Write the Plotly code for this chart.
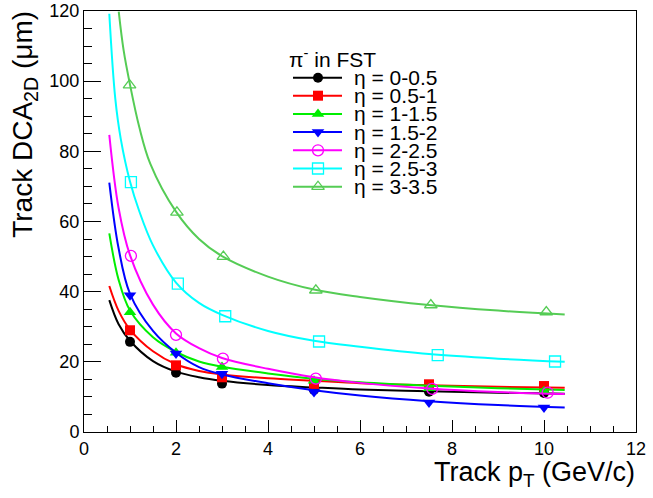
import plotly.graph_objects as go

# ---------------- data ----------------
eta_bins = ["0-0.5", "0.5-1", "1-1.5", "1.5-2", "2-2.5", "2.5-3", "3-3.5"]

# measured points
x_eta00 = [1, 2, 3, 5, 7.5, 10]
y_eta00 = [25.7, 16.9, 13.8, 12.0, 11.5, 11.1]
x_eta05 = [1, 2, 3, 5, 7.5, 10]
y_eta05 = [29.0, 19.0, 15.6, 13.7, 13.6, 13.1]
x_eta10 = [1, 2, 3, 5, 7.5, 10]
y_eta10 = [34.1, 22.6, 18.5, 14.6, 12.5, 11.6]
x_eta15 = [1, 2, 3, 5, 7.5, 10]
y_eta15 = [39.0, 22.4, 16.6, 11.4, 8.4, 7.0]
x_eta20 = [1.02, 2.0, 3.02, 5.04, 7.57, 10.08]
y_eta20 = [50.2, 27.7, 20.9, 15.2, 12.3, 11.2]
x_eta25 = [1.02, 2.04, 3.07, 5.11, 7.69, 10.24]
y_eta25 = [71.2, 42.3, 33.0, 25.8, 21.9, 20.1]
x_eta30 = [0.99, 2.02, 3.03, 5.04, 7.54, 10.05]
y_eta30 = [98.9, 62.6, 50.0, 40.4, 36.2, 34.2]

# fitted curves
fx_std = [0.55, 0.75, 1, 1.5, 2, 2.5, 3, 4, 5, 6, 7.5, 9, 10.45]
fy_eta00 = [37.6, 30.8, 26.0, 20.2, 17.2, 15.6, 14.6, 13.4, 12.7, 12.1, 11.6, 11.2, 10.9]
fy_eta05 = [41.6, 34.6, 29.2, 23.0, 19.3, 17.4, 16.4, 15.3, 14.6, 13.9, 13.3, 12.9, 12.6]
fy_eta10 = [56.6, 43.5, 34.6, 27.0, 22.8, 20.1, 18.6, 16.7, 15.2, 14.2, 13.2, 12.5, 12.0]
fy_eta15 = [71.1, 52.5, 39.4, 28.8, 22.6, 18.5, 16.4, 13.9, 11.9, 10.4, 8.8, 7.7, 7.0]
fy_eta20 = [84.7, 64.0, 50.4, 36.3, 28.1, 23.9, 21.1, 18.0, 15.6, 14.0, 12.4, 11.4, 10.8]
fx_eta25 = [0.55, 0.68, 0.8, 1, 1.2, 1.5, 2, 2.5, 3, 4, 5, 6, 7.5, 9, 10.45]
fy_eta25 = [119.2, 95.0, 83.5, 71.4, 63.0, 53.2, 42.6, 36.8, 33.4, 28.8, 26.0, 24.3, 22.2, 20.9, 20.0]
fx_eta30 = [0.755, 0.86, 1, 1.2, 1.44, 2, 2.5, 3, 4, 5, 6, 7.5, 9, 10.45]
fy_eta30 = [119.8, 108.9, 99.0, 87.0, 76.5, 62.8, 55.0, 50.1, 44.3, 40.6, 38.5, 36.2, 34.6, 33.5]

x_ticks = [0, 2, 4, 6, 8, 10, 12]
y_ticks = [0, 20, 40, 60, 80, 100, 120]

# ---------------- styles ----------------
colors = ["#000000", "#ff0000", "#00ee00", "#0000ff", "#ff00ff", "#00ffff", "#55cc55"]
symbols = ["circle", "square", "triangle-up", "triangle-down",
           "circle-open", "square-open", "triangle-up-open"]
msizes = [10, 10, 11, 11, 11, 11, 11]

series = [
    (x_eta00, y_eta00, fx_std, fy_eta00),
    (x_eta05, y_eta05, fx_std, fy_eta05),
    (x_eta10, y_eta10, fx_std, fy_eta10),
    (x_eta15, y_eta15, fx_std, fy_eta15),
    (x_eta20, y_eta20, fx_std, fy_eta20),
    (x_eta25, y_eta25, fx_eta25, fy_eta25),
    (x_eta30, y_eta30, fx_eta30, fy_eta30),
]

FONT = "Liberation Sans, Arial, Helvetica, sans-serif"

fig = go.Figure()
for i, (mx, my, cx, cy) in enumerate(series):
    is_open = symbols[i].endswith("open")
    fig.add_trace(go.Scatter(
        x=mx, y=my, mode="markers", showlegend=False,
        marker=dict(symbol=symbols[i], size=msizes[i], color=colors[i],
                    line=dict(width=1.3 if is_open else 0, color=colors[i])),
    ))
    fig.add_trace(go.Scatter(
        x=cx, y=cy, mode="lines", showlegend=False,
        line=dict(color=colors[i], width=2, shape="spline", smoothing=1.0),
    ))

# ---------------- hand-made legend (pixel-like overlay axes) ----------------
leg_rows = [77.7, 95.7, 113.9, 132.1, 150.3, 168.5, 186.7]
leg_x0, leg_xm, leg_x1, leg_tx = 293, 318, 342, 352
for i, ry in enumerate(leg_rows):
    is_open = symbols[i].endswith("open")
    fig.add_trace(go.Scatter(
        x=[leg_x0, leg_x1], y=[ry, ry], mode="lines", xaxis="x2", yaxis="y2",
        showlegend=False, hoverinfo="skip",
        line=dict(color=colors[i], width=2),
    ))
    fig.add_trace(go.Scatter(
        x=[leg_xm], y=[ry], mode="markers", xaxis="x2", yaxis="y2",
        showlegend=False, hoverinfo="skip",
        marker=dict(symbol=symbols[i], size=msizes[i], color=colors[i],
                    line=dict(width=1.3 if is_open else 0, color=colors[i])),
    ))

annotations = []
annotations.append(dict(
    x=287, y=57.5, xref="x2", yref="y2", xanchor="left", yanchor="middle",
    text="π<sup>-</sup> in FST", showarrow=False,
    font=dict(family=FONT, size=21, color="black"),
))
for i, ry in enumerate(leg_rows):
    annotations.append(dict(
        x=leg_tx, y=ry, xref="x2", yref="y2", xanchor="left", yanchor="middle",
        text="η = " + eta_bins[i], showarrow=False,
        font=dict(family=FONT, size=21, color="black"),
    ))

# axis titles
annotations.append(dict(
    x=-0.108, y=1.005, xref="paper", yref="paper", xanchor="center", yanchor="top",
    text="Track DCA<sub>2D</sub> (μm)", textangle=-90, showarrow=False,
    font=dict(family=FONT, size=28, color="black"),
))
annotations.append(dict(
    x=1.002, y=-0.054, xref="paper", yref="paper", xanchor="right", yanchor="top",
    text="Track p<sub>T</sub> (GeV/c)", showarrow=False,
    font=dict(family=FONT, size=27, color="black"),
))

fig.update_layout(
    template="none",
    width=653, height=498,
    margin=dict(l=84, r=17, t=11, b=66, autoexpand=False),
    paper_bgcolor="white", plot_bgcolor="white",
    font=dict(family=FONT, size=18, color="black"),
    showlegend=False,
    annotations=annotations,
    xaxis=dict(
        range=[0, 12], tickvals=x_ticks, ticktext=[str(v) for v in x_ticks],
        showline=True, linecolor="black", linewidth=1, mirror=True,
        ticks="inside", ticklen=12, tickcolor="black", tickwidth=1,
        minor=dict(dtick=0.5, ticks="inside", ticklen=6, tickcolor="black", tickwidth=1),
        showgrid=False, zeroline=False, automargin=False,
        tickfont=dict(family=FONT, size=18, color="black"),
    ),
    yaxis=dict(
        range=[0, 120], tickvals=y_ticks, ticktext=[str(v) for v in y_ticks],
        showline=True, linecolor="black", linewidth=1, mirror=True,
        ticks="inside", ticklen=17, tickcolor="black", tickwidth=1,
        minor=dict(dtick=5, ticks="inside", ticklen=8, tickcolor="black", tickwidth=1),
        showgrid=False, zeroline=False, automargin=False,
        tickfont=dict(family=FONT, size=18, color="black"),
    ),
    xaxis2=dict(overlaying="x", range=[84, 636], visible=False, fixedrange=True,
                automargin=False),
    yaxis2=dict(overlaying="y", range=[432, 11], visible=False, fixedrange=True,
                automargin=False),
)

fig.write_html(
    "out.html",
    config={"displayModeBar": False},
    post_script="document.body.style.margin='0';document.body.style.overflow='hidden';",
)
